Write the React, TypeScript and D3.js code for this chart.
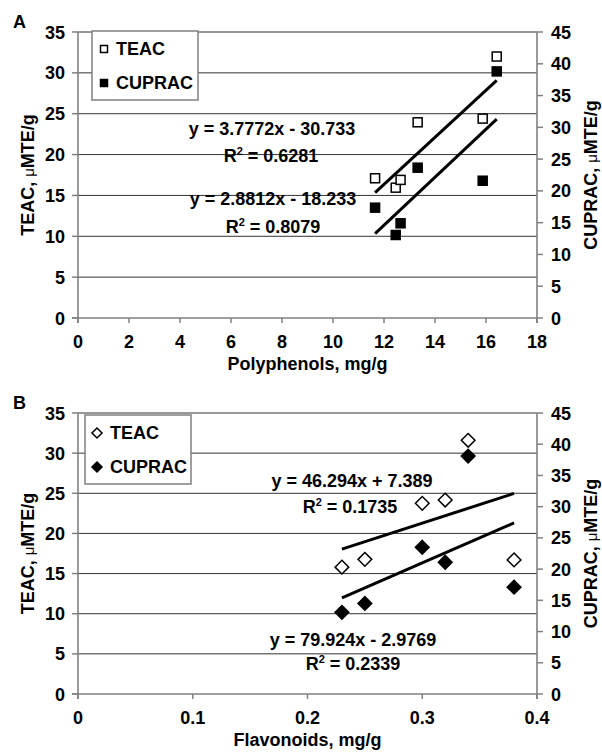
import React from 'react';
import * as d3 from 'd3';

// Panel A: polyphenols (mg/g) vs antioxidant capacity
const polyphenols = [11.65, 12.46, 12.65, 13.32, 15.87, 16.42];
const teacA = [17.1, 15.95, 16.9, 23.95, 24.4, 32.0];
const cupracA = [17.36, 13.06, 14.9, 23.65, 21.6, 38.8];

// Panel B: flavonoids (mg/g)
const flavonoids = [0.23, 0.25, 0.3, 0.32, 0.34, 0.38];
const teacB = [15.8, 16.77, 23.75, 24.16, 31.6, 16.7];
const cupracB = [13.08, 14.5, 23.5, 21.1, 38.1, 17.1];

// linear fits printed on the chart: [slope, intercept]
const teacFitA = [2.8812, -18.233];
const cupracFitA = [3.7772, -30.733];
const teacFitB = [46.294, 7.389];
const cupracFitB = [79.924, -2.9769];

const eqLabelsA = ['y = 3.7772x - 30.733', '0.6281', 'y = 2.8812x - 18.233', '0.8079'];
const eqLabelsB = ['y = 46.294x + 7.389', '0.1735', 'y = 79.924x - 2.9769', '0.2339'];

const xTicksA = [0, 2, 4, 6, 8, 10, 12, 14, 16, 18];
const xTicksB = [0, 0.1, 0.2, 0.3, 0.4];
const leftTicks = [0, 5, 10, 15, 20, 25, 30, 35];
const rightTicks = [0, 5, 10, 15, 20, 25, 30, 35, 40, 45];

const FONT = '"Liberation Sans", Arial, sans-serif';
const AXIS = '#808080';

type PanelProps = {
  letter: string;
  top: number;
  bottom: number;
  xs: number[];
  teac: number[];
  cuprac: number[];
  teacFit: number[];
  cupracFit: number[];
  xDomain: [number, number];
  xTicks: number[];
  xTitle: string;
  shape: 'square' | 'diamond';
  legend: { x: number; y: number };
  eqLabels: string[];
  eqPos: { x: number; y: number }[];
};

const Marker = ({ x, y, shape, filled, size }: any) => {
  const fill = filled ? '#000' : '#fff';
  if (shape === 'square') {
    return (
      <rect x={x - size / 2} y={y - size / 2} width={size} height={size}
        fill={fill} stroke="#000" strokeWidth={1.5} />
    );
  }
  const r = size * 0.72;
  return (
    <path d={`M${x},${y - r}L${x + r},${y}L${x},${y + r}L${x - r},${y}Z`}
      fill={fill} stroke="#000" strokeWidth={1.5} />
  );
};

const Panel = (p: PanelProps) => {
  const left = 78;
  const right = 537;
  const x = d3.scaleLinear().domain(p.xDomain).range([left, right]);
  const yL = d3.scaleLinear().domain([0, 35]).range([p.bottom, p.top]);
  const yR = d3.scaleLinear().domain([0, 45]).range([p.bottom, p.top]);
  const xFmt = p.xDomain[1] < 1 ? (d: number) => String(d) : d3.format('d');
  const [x0, x1] = d3.extent(p.xs) as [number, number];
  const fitPts = (f: number[]) => [x0, x1].map(v => [v, f[0] * v + f[1]] as [number, number]);
  const lineL = d3.line<[number, number]>().x(d => x(d[0])).y(d => yL(d[1]));
  const lineR = d3.line<[number, number]>().x(d => x(d[0])).y(d => yR(d[1]));
  const mid = (p.top + p.bottom) / 2;
  const msize = p.shape === 'square' ? 9 : 9.5;

  return (
    <g fontFamily={FONT} fontWeight="bold" fill="#000">
      <text x={13} y={p.top - 4} fontSize={18}>{p.letter}</text>
      {/* grid */}
      {leftTicks.filter(t => t > 0).map(t => (
        <line key={t} x1={left} x2={right} y1={yL(t)} y2={yL(t)} stroke="#333" strokeWidth={1} />
      ))}
      {/* axes */}
      <line x1={left} x2={left} y1={p.top} y2={p.bottom + 5} stroke={AXIS} strokeWidth={1.6} />
      <line x1={right} x2={right} y1={p.top} y2={p.bottom + 5} stroke={AXIS} strokeWidth={1.6} />
      <line x1={left - 6} x2={right} y1={p.bottom} y2={p.bottom} stroke={AXIS} strokeWidth={1.6} />
      {leftTicks.map(t => (
        <g key={t}>
          <line x1={left - 6} x2={left} y1={yL(t)} y2={yL(t)} stroke={AXIS} strokeWidth={1.5} />
          <text x={65} y={yL(t) + 6.5} fontSize={18} textAnchor="end">{t}</text>
        </g>
      ))}
      {rightTicks.map(t => (
        <g key={t}>
          <line x1={right} x2={right + 6} y1={yR(t)} y2={yR(t)} stroke={AXIS} strokeWidth={1.5} />
          <text x={551} y={yR(t) + 6.5} fontSize={18}>{t}</text>
        </g>
      ))}
      {p.xTicks.map(t => (
        <g key={t}>
          <line x1={x(t)} x2={x(t)} y1={p.bottom} y2={p.bottom + 5} stroke={AXIS} strokeWidth={1.5} />
          <text x={x(t)} y={p.bottom + 30} fontSize={18} textAnchor="middle">{xFmt(t)}</text>
        </g>
      ))}
      <text x={(left + right) / 2} y={p.bottom + 52} fontSize={18} textAnchor="middle">{p.xTitle}</text>
      <text transform={`translate(34,${mid}) rotate(-90)`} fontSize={18} textAnchor="middle">
        TEAC, <tspan fontWeight="normal" fontSize={15}>μ</tspan>MTE/g
      </text>
      <text transform={`translate(597,${mid}) rotate(-90)`} fontSize={18} textAnchor="middle">
        CUPRAC, <tspan fontWeight="normal" fontSize={15}>μ</tspan>MTE/g
      </text>

      {/* trend lines */}
      <path d={lineL(fitPts(p.teacFit)) || ''} fill="none" stroke="#000" strokeWidth={3} />
      <path d={lineR(fitPts(p.cupracFit)) || ''} fill="none" stroke="#000" strokeWidth={3} />

      {/* points */}
      {p.xs.map((v, i) => (
        <Marker key={'t' + i} x={x(v)} y={yL(p.teac[i])} shape={p.shape} filled={false} size={msize} />
      ))}
      {p.xs.map((v, i) => (
        <Marker key={'c' + i} x={x(v)} y={yR(p.cuprac[i])} shape={p.shape} filled={true} size={msize} />
      ))}

      {/* equations */}
      {p.eqLabels.map((s, i) => (
        <text key={i} x={p.eqPos[i].x} y={p.eqPos[i].y} fontSize={18} textAnchor="middle">
          {i % 2 === 1 ? <>R<tspan fontSize={11} dy={-7}>2</tspan><tspan dy={7}> = {s}</tspan></> : s}
        </text>
      ))}

      {/* legend */}
      <rect x={p.legend.x} y={p.legend.y} width={106} height={69} fill="#fff" stroke={AXIS} strokeWidth={1.5} />
      <Marker x={p.legend.x + 12} y={p.legend.y + 18} shape={p.shape} filled={false} size={7} />
      <text x={p.legend.x + (p.shape === 'square' ? 24 : 25)} y={p.legend.y + 24} fontSize={18}>TEAC</text>
      <Marker x={p.legend.x + 12} y={p.legend.y + 52} shape={p.shape} filled={true} size={7} />
      <text x={p.legend.x + (p.shape === 'square' ? 24 : 25)} y={p.legend.y + 58} fontSize={18}>CUPRAC</text>
    </g>
  );
};

const App = () => (
  <svg width={602} height={755} style={{ position: 'absolute', left: 0, top: 0, background: '#fff' }}>
    <Panel letter="A" top={32} bottom={318} xs={polyphenols} teac={teacA} cuprac={cupracA}
      teacFit={teacFitA} cupracFit={cupracFitA} xDomain={[0, 18]} xTicks={xTicksA}
      xTitle="Polyphenols, mg/g" shape="square" legend={{ x: 92, y: 31 }}
      eqLabels={eqLabelsA}
      eqPos={[{ x: 272, y: 135 }, { x: 271, y: 162 }, { x: 273, y: 205 }, { x: 273, y: 233 }]} />
    <Panel letter="B" top={413} bottom={694} xs={flavonoids} teac={teacB} cuprac={cupracB}
      teacFit={teacFitB} cupracFit={cupracFitB} xDomain={[0, 0.4]} xTicks={xTicksB}
      xTitle="Flavonoids, mg/g" shape="diamond" legend={{ x: 85, y: 415 }}
      eqLabels={eqLabelsB}
      eqPos={[{ x: 352, y: 487 }, { x: 350, y: 513 }, { x: 353, y: 646 }, { x: 353, y: 670 }]} />
  </svg>
);

export default App;
